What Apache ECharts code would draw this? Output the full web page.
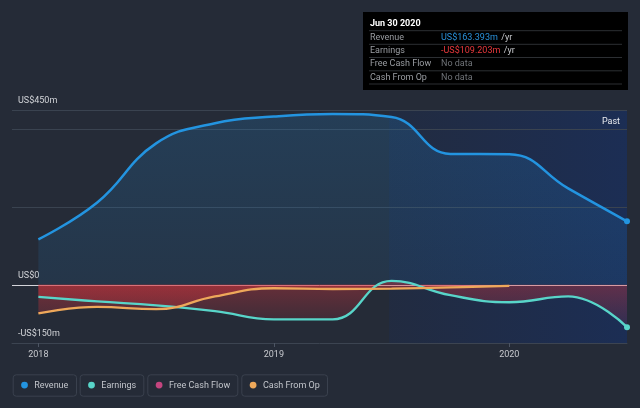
<!DOCTYPE html>
<html>
<head>
<meta charset="utf-8">
<script src="https://cdn.jsdelivr.net/npm/echarts@6/dist/echarts.min.js"></script>
<style>
html,body{margin:0;padding:0;background:#252b37;}
#chart{width:640px;height:408px;}
</style>
</head>
<body>
<div id="chart"></div>
<script>
// ---- data ----
const quarters   = [2018.0, 2018.25, 2018.5, 2018.75, 2019.0, 2019.25, 2019.5, 2019.75, 2020.0, 2020.25, 2020.5];
const revenue    = [117, 212, 364, 416, 433, 440, 432, 337, 336, 248, 163.393];
const earnings   = [-31, -43, -53, -68, -89, -89, 10, -27, -45, -30, -109.203];
const cashFromOp = [-74, -57, -63, -30, -9, -11, -10, -7, -3];
const yearTicks  = [2018, 2019, 2020];
const yLabelMap  = {'-150': '-US$150m', '0': 'US$0', '450': 'US$450m'};
const gridValues = [200, 400, 450];
const pastStart  = 2019.49;
const pastEnd    = 2020.5;
const legendNames  = ['Revenue', 'Earnings', 'Free Cash Flow', 'Cash From Op'];
const legendColors = ['#2394e0', '#58d5c9', '#c4457f', '#eea85a'];
const tooltipDate  = 'Jun 30 2020';

// ---- helpers ----
function zipSeries(xs, ys, markLast) {
  return ys.map((v, i) => (markLast && i === ys.length - 1)
    ? {value: [xs[i], v], symbol: 'circle', symbolSize: 6}
    : [xs[i], v]);
}
const fmt = v => (v < 0 ? '-' : '') + 'US$' + Math.abs(v).toFixed(3) + 'm';
const redGrad = (a0, a1) => ({type: 'linear', x: 0, y: 0, x2: 0, y2: 1, colorStops: [
  {offset: 0, color: 'rgba(220,52,60,' + a0 + ')'},
  {offset: 1, color: 'rgba(220,52,60,' + a1 + ')'}]});

// ---- tooltip box (graphic) ----
const tipX = 363, tipY = 12, tipW = 265, tipH = 78;
const lastRev = revenue[revenue.length - 1];
const lastEarn = earnings[earnings.length - 1];
const tipRows = [
  ['Revenue', fmt(lastRev), '#2a92dc', true],
  ['Earnings', fmt(lastEarn), '#e8383c', true],
  ['Free Cash Flow', 'No data', '#6f7378', false],
  ['Cash From Op', 'No data', '#6f7378', false]
];
const tipEls = [
  {type: 'rect', shape: {x: tipX, y: tipY, width: tipW, height: tipH}, style: {fill: '#000000'}},
  {type: 'text', x: tipX + 7, y: tipY + 12, style: {text: tooltipDate, fill: '#ffffff', font: 'bold 9px Roboto', verticalAlign: 'middle'}}
];
const lineYs = [30.7, 44.3, 57.5, 70.8, 84];
lineYs.forEach(y => tipEls.push({type: 'line', shape: {x1: tipX + 6, y1: y, x2: tipX + 259, y2: y}, style: {stroke: '#2c2f33', lineWidth: 1}}));
tipRows.forEach((r, i) => {
  const cy = (lineYs[i] + lineYs[i + 1]) / 2;
  tipEls.push({type: 'text', x: tipX + 7, y: cy, style: {text: r[0], fill: '#9a9da2', font: '9px Roboto', verticalAlign: 'middle'}});
  tipEls.push({type: 'text', x: tipX + 78, y: cy, style: {
    text: r[3] ? '{v|' + r[1] + '} {u|/yr}' : '{v|' + r[1] + '}',
    verticalAlign: 'middle',
    rich: {v: {fill: r[2], font: '9px Roboto'}, u: {fill: '#c8cace', font: '9px Roboto'}}
  }});
});

// ---- legend (graphic) ----
const legX = [12.7, 79.7, 147.3, 241.3];
const legW = [63.3, 63.6, 90, 85.7];
const legY = 374.3, legH = 21.4;
const legEls = [];
legendNames.forEach((n, i) => {
  legEls.push({type: 'rect', shape: {x: legX[i] + 0.5, y: legY + 0.5, width: legW[i], height: legH, r: 3}, style: {fill: 'transparent', stroke: '#3a414e', lineWidth: 1}});
  legEls.push({type: 'circle', shape: {cx: legX[i] + 11.8, cy: legY + 10.8, r: 3.4}, style: {fill: legendColors[i]}});
  legEls.push({type: 'text', x: legX[i] + 21.6, y: legY + 11, style: {text: n, fill: '#c3c6cc', font: '9px Roboto', verticalAlign: 'middle'}});
});

const chart = echarts.init(document.getElementById('chart'), null, {renderer: 'canvas'});
const option = {
  backgroundColor: '#252b37',
  animation: false,
  textStyle: {fontFamily: 'Roboto'},
  grid: {left: 12, right: 13, top: 110, bottom: 65},
  xAxis: {
    type: 'value', min: 2017.888, max: 2020.5,
    axisLine: {onZero: false, lineStyle: {color: '#3c4451', width: 1}},
    axisTick: {show: true, customValues: yearTicks, length: 4, lineStyle: {color: '#4d5563'}},
    axisLabel: {customValues: yearTicks, formatter: v => String(Math.round(v)), color: '#c8cacf', fontSize: 9, margin: 7},
    splitLine: {show: false}
  },
  yAxis: {
    type: 'value', min: -150, max: 450, interval: 150,
    axisLine: {show: false}, axisTick: {show: false}, splitLine: {show: false},
    axisLabel: {inside: true, margin: 6, formatter: v => yLabelMap[String(v)] || '', color: '#d2d4d8', fontSize: 9, verticalAlign: 'bottom', lineHeight: 18}
  },
  graphic: {elements: tipEls.concat(legEls)},
  series: [
    {
      name: 'bg', type: 'line', z: 0, silent: true, symbol: 'none',
      data: zipSeries(quarters, revenue, false), lineStyle: {opacity: 0},
      markArea: {silent: true, z: 0,
        itemStyle: {color: {type: 'linear', x: 0, y: 0, x2: 1, y2: 0, colorStops: [
          {offset: 0, color: 'rgba(15,45,115,0.16)'}, {offset: 1, color: 'rgba(15,50,125,0.42)'}]}},
        label: {show: true, position: 'insideTopRight', formatter: 'Past', color: '#e8eaee', fontSize: 9, distance: 7},
        data: [[{xAxis: pastStart}, {xAxis: pastEnd}]]},
      markLine: {silent: true, symbol: 'none', label: {show: false}, z: 0,
        lineStyle: {color: '#3a4350', type: 'solid', width: 1},
        data: gridValues.map(v => ({yAxis: v})).concat([{yAxis: 0, lineStyle: {color: '#d4d4da', type: 'solid', width: 1}}])}
    },
    {
      name: 'Revenue', type: 'line', z: 4, smooth: 0.45, symbol: 'none', showSymbol: true,
      data: zipSeries(quarters, revenue, true),
      lineStyle: {color: '#2394e0', width: 2.5}, itemStyle: {color: '#2394e0'},
      areaStyle: {color: {type: 'linear', x: 0, y: 0, x2: 0, y2: 1, colorStops: [
        {offset: 0, color: 'rgba(35,150,235,0.25)'}, {offset: 1, color: 'rgba(35,150,235,0.14)'}]}}
    },
    {
      name: 'Earnings', type: 'line', z: 4, smooth: 0.45, symbol: 'none', showSymbol: true,
      data: zipSeries(quarters, earnings, true),
      lineStyle: {color: '#58d5c9', width: 2.3}, itemStyle: {color: '#58d5c9'},
      areaStyle: {color: redGrad(0.55, 0.14)}
    },
    {
      name: 'Cash From Op', type: 'line', z: 4, smooth: 0.45, symbol: 'none', showSymbol: false,
      data: zipSeries(quarters, cashFromOp, false),
      lineStyle: {color: '#eea85a', width: 2.3},
      areaStyle: {color: redGrad(0.6, 0.35)}
    }
  ]
};
chart.setOption(option);
</script>
</body>
</html>
